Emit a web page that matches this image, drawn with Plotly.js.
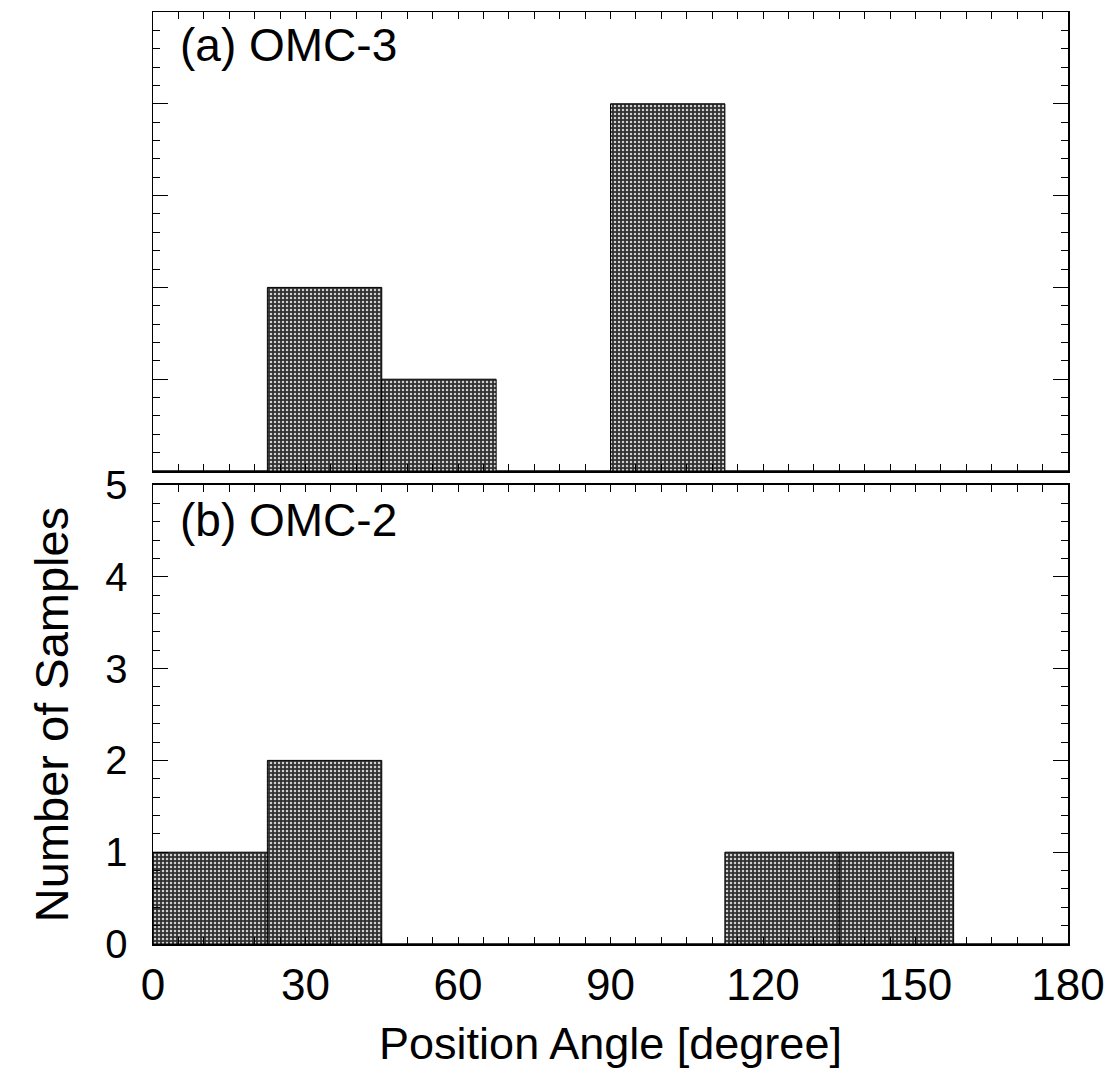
<!DOCTYPE html>
<html>
<head>
<meta charset="utf-8">
<script src="https://cdn.plot.ly/plotly-3.0.1.min.js"></script>
<style>html,body{margin:0;padding:0;background:#fff;}#chart{width:1105px;height:1069px;}</style>
</head>
<body>
<div id="chart"></div>
<script>
// Histogram bins (degrees), bin width 22.5
const binCenters = [11.25, 33.75, 56.25, 78.75, 101.25, 123.75, 146.25, 168.75];
const binWidth = 22.5;
// (a) OMC-3 counts
const omc3Counts = [0, 2, 1, 0, 4, 0, 0, 0];
// (b) OMC-2 counts
const omc2Counts = [1, 2, 0, 0, 0, 1, 1, 0];
const xTickVals = [0, 30, 60, 90, 120, 150, 180];
const yTickVals = [0, 1, 2, 3, 4, 5];
const panelLabels = ["(a) OMC-3", "(b) OMC-2"];

const FONT = "Liberation Sans, Arial, sans-serif";
const barMarker = {
  color: "#404040",
  line: {color: "#000", width: 1},
  pattern: {shape: ".", fgcolor: "#d0d0d0", bgcolor: "#303030", size: 4, solidity: 0.3, fillmode: "replace"}
};

const traces = [
  {type: "bar", x: binCenters, y: omc3Counts, width: binWidth, xaxis: "x", yaxis: "y", marker: barMarker, hoverinfo: "x+y"},
  {type: "bar", x: binCenters, y: omc2Counts, width: binWidth, xaxis: "x2", yaxis: "y2", marker: barMarker, hoverinfo: "x+y"}
];

const xBase = {
  range: [0, 180], tickvals: xTickVals, ticks: "inside", ticklen: 7, tickwidth: 1, tickcolor: "#000",
  minor: {dtick: 5, ticks: "inside", ticklen: 7, tickcolor: "#000", tickwidth: 1},
  showline: true, linecolor: "#000", linewidth: 1.5, mirror: "ticks", showgrid: false, zeroline: false,
  tickfont: {family: FONT, size: 44, color: "#000"}
};
const yBase = {
  range: [0, 5], tickvals: yTickVals, ticks: "inside", ticklen: 15, tickwidth: 1, tickcolor: "#000",
  minor: {dtick: 0.2, ticks: "inside", ticklen: 7, tickcolor: "#000", tickwidth: 1},
  showline: true, linecolor: "#000", linewidth: 1.5, mirror: "ticks", showgrid: false, zeroline: false,
  tickfont: {family: FONT, size: 40, color: "#000"}
};

const layout = {
  width: 1105, height: 1069,
  margin: {l: 153, r: 37, t: 12, b: 125},
  paper_bgcolor: "#fff", plot_bgcolor: "#fff",
  showlegend: false, bargap: 0,
  font: {family: FONT, color: "#000"},
  xaxis: Object.assign({}, xBase, {domain: [0, 1], anchor: "y", showticklabels: false}),
  yaxis: Object.assign({}, yBase, {domain: [0.5075, 1], anchor: "x", showticklabels: false}),
  xaxis2: Object.assign({}, xBase, {domain: [0, 1], anchor: "y2", ticklabelstandoff: 2,
    title: {text: "Position Angle [degree]", font: {family: FONT, size: 45, color: "#000"}, standoff: 22}}),
  yaxis2: Object.assign({}, yBase, {domain: [0, 0.4925], anchor: "x2", ticklabelstandoff: 16,
    title: {text: "Number of Samples", font: {family: FONT, size: 47, color: "#000"}, standoff: 22}}),
  annotations: [
    {text: panelLabels[0], xref: "x domain", yref: "y domain", x: 0.027, y: 0.928, xanchor: "left", yanchor: "middle",
     showarrow: false, font: {family: FONT, size: 46, color: "#000"}},
    {text: panelLabels[1], xref: "x2 domain", yref: "y2 domain", x: 0.027, y: 0.924, xanchor: "left", yanchor: "middle",
     showarrow: false, font: {family: FONT, size: 46, color: "#000"}}
  ]
};

Plotly.newPlot("chart", traces, layout, {staticPlot: true, displayModeBar: false});
</script>
</body>
</html>
